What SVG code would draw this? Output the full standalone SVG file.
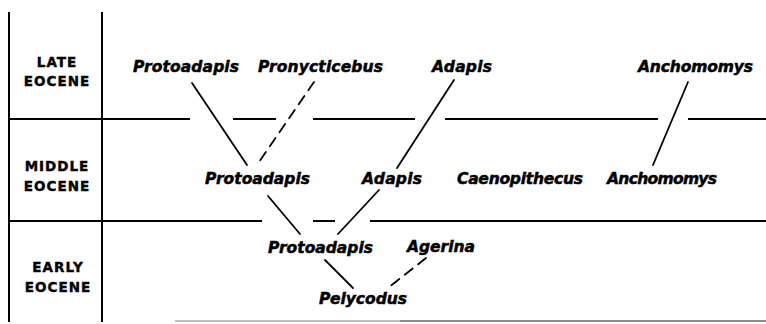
<svg xmlns="http://www.w3.org/2000/svg" width="766" height="324" viewBox="0 0 766 324">
<style>
.bg{fill:#fff}
.rule{stroke:#000;stroke-width:2;fill:none}
.faint{stroke:#aaa;stroke-width:1.5;fill:none}
.link{stroke:#000;stroke-width:1.8;fill:none;stroke-linecap:round}
.dash{stroke-dasharray:10,7}
.period{font-family:"DejaVu Sans",sans-serif;font-weight:bold;font-size:13.5px;fill:#000;stroke:#000;stroke-width:0.4;text-anchor:middle;letter-spacing:1px}
.taxon{font-family:"DejaVu Sans",sans-serif;font-weight:bold;font-style:italic;font-size:15.5px;fill:#000;stroke:#000;stroke-width:0.5}
</style>
<rect class="bg" x="0" y="0" width="766" height="324"/>
<g id="frame">
<line class="rule" x1="9" y1="12" x2="9" y2="322"/>
<line class="rule" x1="102" y1="12" x2="102" y2="322"/>
<line class="rule" x1="9" y1="119" x2="190" y2="119"/>
<line class="rule" x1="233" y1="119" x2="276" y2="119"/>
<line class="rule" x1="313" y1="119" x2="415" y2="119"/>
<line class="rule" x1="445" y1="119" x2="658" y2="119"/>
<line class="rule" x1="688" y1="119" x2="766" y2="119"/>
<line class="rule" x1="9" y1="221" x2="262" y2="221"/>
<line class="rule" x1="313" y1="221" x2="335" y2="221"/>
<line class="rule" x1="370" y1="221" x2="766" y2="221"/>
<line class="faint" x1="175" y1="321" x2="400" y2="321"/>
<line class="faint" x1="400" y1="321" x2="766" y2="321" style="stroke:#666"/>
</g>
<g id="periods">
<text class="period" x="57" y="67">LATE</text>
<text class="period" x="57" y="86">EOCENE</text>
<text class="period" x="57" y="171">MIDDLE</text>
<text class="period" x="57" y="191">EOCENE</text>
<text class="period" x="58" y="272">EARLY</text>
<text class="period" x="58" y="292">EOCENE</text>
</g>
<g id="n-protoadapis-late"><text class="taxon" x="133" y="72" textLength="106">Protoadapis</text></g>
<g id="n-pronycticebus"><text class="taxon" x="258" y="72" textLength="125">Pronycticebus</text></g>
<g id="n-adapis-late"><text class="taxon" x="432" y="72" textLength="60">Adapis</text></g>
<g id="n-anchomomys-late"><text class="taxon" x="638" y="72" textLength="115">Anchomomys</text></g>
<g id="n-protoadapis-middle"><text class="taxon" x="205" y="184" textLength="105">Protoadapis</text></g>
<g id="n-adapis-middle"><text class="taxon" x="362" y="184" textLength="60">Adapis</text></g>
<g id="n-caenopithecus"><text class="taxon" x="457" y="184" textLength="126">Caenopithecus</text></g>
<g id="n-anchomomys-middle"><text class="taxon" x="607" y="184" textLength="110">Anchomomys</text></g>
<g id="n-protoadapis-early"><text class="taxon" x="268" y="253" textLength="105">Protoadapis</text></g>
<g id="n-agerina"><text class="taxon" x="407" y="252" textLength="68">Agerina</text></g>
<g id="n-pelycodus"><text class="taxon" x="319" y="304" textLength="88">Pelycodus</text></g>
<g id="connectors">
<line class="link" x1="192" y1="83" x2="247" y2="165"/>
<line class="link dash" x1="314" y1="82" x2="257" y2="165"/>
<line class="link" x1="454" y1="80" x2="397" y2="168"/>
<line class="link" x1="688" y1="82" x2="653" y2="165"/>
<line class="link" x1="268" y1="196" x2="300" y2="234"/>
<line class="link" x1="379" y1="190" x2="338" y2="234"/>
<line class="link" x1="325" y1="260" x2="353" y2="288"/>
<line class="link dash" x1="426" y1="258" x2="388" y2="288"/>
</g>
</svg>
